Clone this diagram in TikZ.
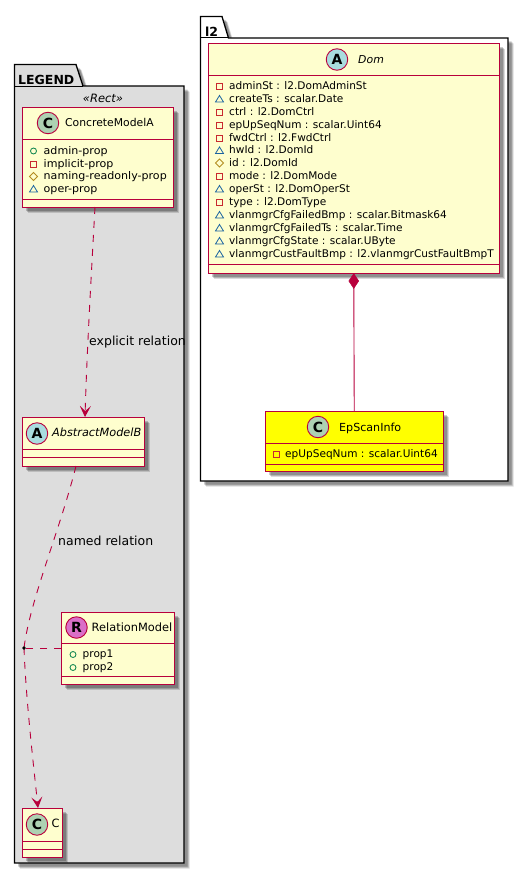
\documentclass[tikz,border=0pt]{standalone}
\usepackage{fontspec}
\setmainfont{DejaVu Sans}
\usetikzlibrary{shadows,arrows.meta,calc}
\definecolor{umlred}{HTML}{B8003C}
\definecolor{umlfill}{HTML}{FEFECE}
\definecolor{umlyellow}{rgb}{1,1,0}
\definecolor{cgreen}{HTML}{ADD1B2}
\definecolor{cblue}{HTML}{A9DCDF}
\definecolor{cpink}{HTML}{DA6FC8}
\definecolor{mpub}{HTML}{038048}
\definecolor{mpriv}{HTML}{C82930}
\definecolor{mprot}{HTML}{B38D22}
\definecolor{mpack}{HTML}{1963A0}
\tikzset{
  softshadow/.style={
    general shadow={shadow xshift=5.5pt,shadow yshift=-5.5pt,fill=black,draw=none,opacity=.14},
    general shadow={shadow xshift=4.5pt,shadow yshift=-4.5pt,fill=black,draw=none,opacity=.18},
    general shadow={shadow xshift=3.5pt,shadow yshift=-3.5pt,fill=black,draw=none,opacity=.2}},
  classbox/.style={rectangle,draw=umlred,fill=umlfill,line width=1pt,inner sep=0pt,outer sep=0pt,softshadow},
  pkgbody/.style={draw=black,line width=1.3pt,softshadow},
  spot/.style={circle,draw=umlred,line width=.9pt,minimum size=21.5pt,inner sep=0pt,font=\fontsize{14}{14}\selectfont\bfseries},
  rowtext/.style={anchor=west,inner sep=0pt,font=\fontsize{10.55}{12}\selectfont,text height=8pt,text depth=2pt},
  titletext/.style={inner sep=0pt,anchor=west,font=\fontsize{10.8}{12}\selectfont,text height=8.5pt,text depth=2pt},
  sep/.style={draw=umlred,line width=1pt},
  rel/.style={draw=umlred,line width=.9pt},
  reldash/.style={rel,dash pattern=on 7pt off 7pt},
  relarrow/.style={-{Stealth[length=11pt,width=11pt,inset=5pt]}},
  lbl/.style={inner sep=0pt,anchor=west,font=\fontsize{12.5}{14}\selectfont,text height=9pt,text depth=2.5pt},
  pkgtitle/.style={inner sep=0pt,anchor=west,font=\fontsize{12.5}{14}\selectfont\bfseries,text height=9.5pt,text depth=0pt},
  mk/.style={line width=.8pt,fill=none}
}
\newcommand{\mkpub}[2]{\draw[mk,draw=mpub] (#1,#2) circle (3pt);}
\newcommand{\mkpriv}[2]{\draw[mk,draw=mpriv] ($(#1,#2)+(-3,-3)$) rectangle ($(#1,#2)+(3,3)$);}
\newcommand{\mkprot}[2]{\draw[mk,draw=mprot] ($(#1,#2)+(-4,0)$) -- ($(#1,#2)+(0,4)$) -- ($(#1,#2)+(4,0)$) -- ($(#1,#2)+(0,-4)$) -- cycle;}
\newcommand{\mkpack}[2]{\draw[mk,draw=mpack] ($(#1,#2)+(-4,3)$) -- ($(#1,#2)+(4,3)$) -- ($(#1,#2)+(0,-3.5)$) -- cycle;}
\newcommand{\umlrow}[6]{\csname mk#2\endcsname{#3}{#5}\node[rowtext] (#1) at (#4,#5) {#6};}
\newcommand{\wider}[1]{\scalebox{1.05}[1]{#1}}
\begin{document}
\begin{tikzpicture}[x=1pt,y=-1pt]
\useasboundingbox (0,0) rectangle (529,875);
\fill[white] (0,0) rectangle (529,875);

% LEGEND package
\draw[pkgbody,fill=black!13.5] (14.5,86) -- (14.5,64.5) -- (76,64.5) -- (83,86) -- (184,86) -- (184,863) -- (14.5,863) -- cycle;
\draw[black,line width=1pt] (14.5,86) -- (83,86);
\node[pkgtitle] (legendtitle) at (18,80) {LEGEND};

% l2 package
\draw[pkgbody,fill=white] (200.5,38) -- (200.5,16.5) -- (222,16.5) -- (228.5,38) -- (508,38) -- (508,481) -- (200.5,481) -- cycle;
\draw[black,line width=1pt] (200.5,38) -- (228.5,38);
\node[pkgtitle] (ltwotitle) at (205,32) {l2};

\node[inner sep=0pt,font=\fontsize{11.5}{12}\selectfont\itshape] (stereo) at (103,98) {«Rect»};

% ConcreteModelA
\node[classbox,minimum width=151.5pt,minimum height=100pt] (concrete) at (97.75,157) {};
\draw[sep] (22,139) -- (173.5,139) (22,199) -- (173.5,199);
\node[spot,fill=cgreen] (concretespot) at (48,123) {C};
\node[titletext] (concretename) at (65,123.5) {ConcreteModelA};
\umlrow{ca}{pub}{33.5}{43.5}{151}{\wider{admin-prop}}
\umlrow{cb}{priv}{33.5}{43.5}{164}{\wider{implicit-prop}}
\umlrow{cc}{prot}{33.5}{43.5}{176.5}{\wider{naming-readonly-prop}}
\umlrow{cd}{pack}{33.5}{43.5}{189}{\wider{oper-prop}}

% AbstractModelB
\node[classbox,minimum width=122.5pt,minimum height=49pt] (abstract) at (83.25,441.5) {};
\draw[sep] (22,449) -- (144.5,449) (22,457) -- (144.5,457);
\node[spot,fill=cblue] (abstractspot) at (37,433.5) {A};
\node[titletext,font=\fontsize{11.3}{12}\selectfont\itshape] (abstractname) at (52,433.5) {AbstractModelB};

% RelationModel
\node[classbox,minimum width=113.5pt,minimum height=72pt] (relation) at (117.75,648) {};
\draw[sep] (61,643) -- (174.5,643) (61,676) -- (174.5,676);
\node[spot,fill=cpink] (relationspot) at (76.5,627.5) {R};
\node[titletext,font=\fontsize{11.4}{12}\selectfont] (relationname) at (91.5,628) {RelationModel};
\umlrow{ra}{pub}{73}{82.5}{654.5}{prop1}
\umlrow{rb}{pub}{73}{82.5}{667.5}{prop2}

% C
\node[classbox,minimum width=40.5pt,minimum height=49pt] (cmodel) at (42.25,832.5) {};
\draw[sep] (22,841) -- (62.5,841) (22,849) -- (62.5,849);
\node[spot,fill=cgreen] (cspot) at (37,824.5) {C};
\node[titletext,font=\fontsize{11.4}{12}\selectfont] (cname) at (51.5,824.5) {C};

% Dom
\node[classbox,minimum width=291.5pt,minimum height=229.5pt] (dom) at (353.75,158.25) {};
\draw[sep] (208,75) -- (499.5,75) (208,264) -- (499.5,264);
\node[spot,fill=cblue] (domspot) at (337,59.5) {A};
\node[titletext,font=\fontsize{10.9}{12}\selectfont\itshape] (domname) at (358,60) {Dom};
\umlrow{da}{priv}{219.5}{229}{86}{adminSt : l2.DomAdminSt}
\umlrow{db}{pack}{219.5}{229}{99}{createTs : scalar.Date}
\umlrow{dc}{priv}{219.5}{229}{112}{ctrl : l2.DomCtrl}
\umlrow{dd}{priv}{219.5}{229}{125}{epUpSeqNum : scalar.Uint64}
\umlrow{de}{priv}{219.5}{229}{138}{fwdCtrl : l2.FwdCtrl}
\umlrow{df}{pack}{219.5}{229}{150.5}{hwId : l2.DomId}
\umlrow{dg}{prot}{219.5}{229}{163}{id : l2.DomId}
\umlrow{dh}{priv}{219.5}{229}{176}{mode : l2.DomMode}
\umlrow{di}{pack}{219.5}{229}{189}{operSt : l2.DomOperSt}
\umlrow{dj}{priv}{219.5}{229}{202}{type : l2.DomType}
\umlrow{dk}{pack}{219.5}{229}{215}{vlanmgrCfgFailedBmp : scalar.Bitmask64}
\umlrow{dl}{pack}{219.5}{229}{228}{vlanmgrCfgFailedTs : scalar.Time}
\umlrow{dm}{pack}{219.5}{229}{241}{vlanmgrCfgState : scalar.UByte}
\umlrow{dn}{pack}{219.5}{229}{254}{vlanmgrCustFaultBmp : l2.vlanmgrCustFaultBmpT}

% EpScanInfo
\node[classbox,fill=umlyellow,minimum width=178.5pt,minimum height=59.5pt] (epscan) at (354.25,441.5) {};
\draw[sep] (265,443) -- (443.5,443) (265,464) -- (443.5,464);
\node[spot,fill=cgreen] (epspot) at (318,427) {C};
\node[titletext,font=\fontsize{11.1}{12}\selectfont] (epname) at (339,428) {EpScanInfo};
\umlrow{ea}{priv}{276.5}{285}{454}{epUpSeqNum : scalar.Uint64}

% connectors
\coordinate (junction) at (24,648);
\draw[reldash,relarrow] ([xshift=-2.75pt]concrete.south) .. controls (91,280) and (87,350) .. ([xshift=1.75pt]abstract.north);
\draw[reldash] ([xshift=-7.25pt]abstract.south) .. controls (60,530) and (30,600) .. (junction);
\draw[reldash,relarrow] (junction) .. controls (26,700) and (33,760) .. ([xshift=-4.25pt]cmodel.north);
\draw[reldash] (relation.west) -- (junction);
\fill[black] (junction) circle (1.8pt);
\draw[rel] (dom.south) -- (epscan.north);
\fill[umlred,draw=umlred] ($(dom.south)+(0,0.5)$) -- ($(dom.south)+(-5,8)$) -- ($(dom.south)+(0,15.5)$) -- ($(dom.south)+(5,8)$) -- cycle;

\node[lbl] (explicitlabel) at (89,342) {explicit relation};
\node[lbl] (namedlabel) at (58,542) {named relation};
\end{tikzpicture}
\end{document}
